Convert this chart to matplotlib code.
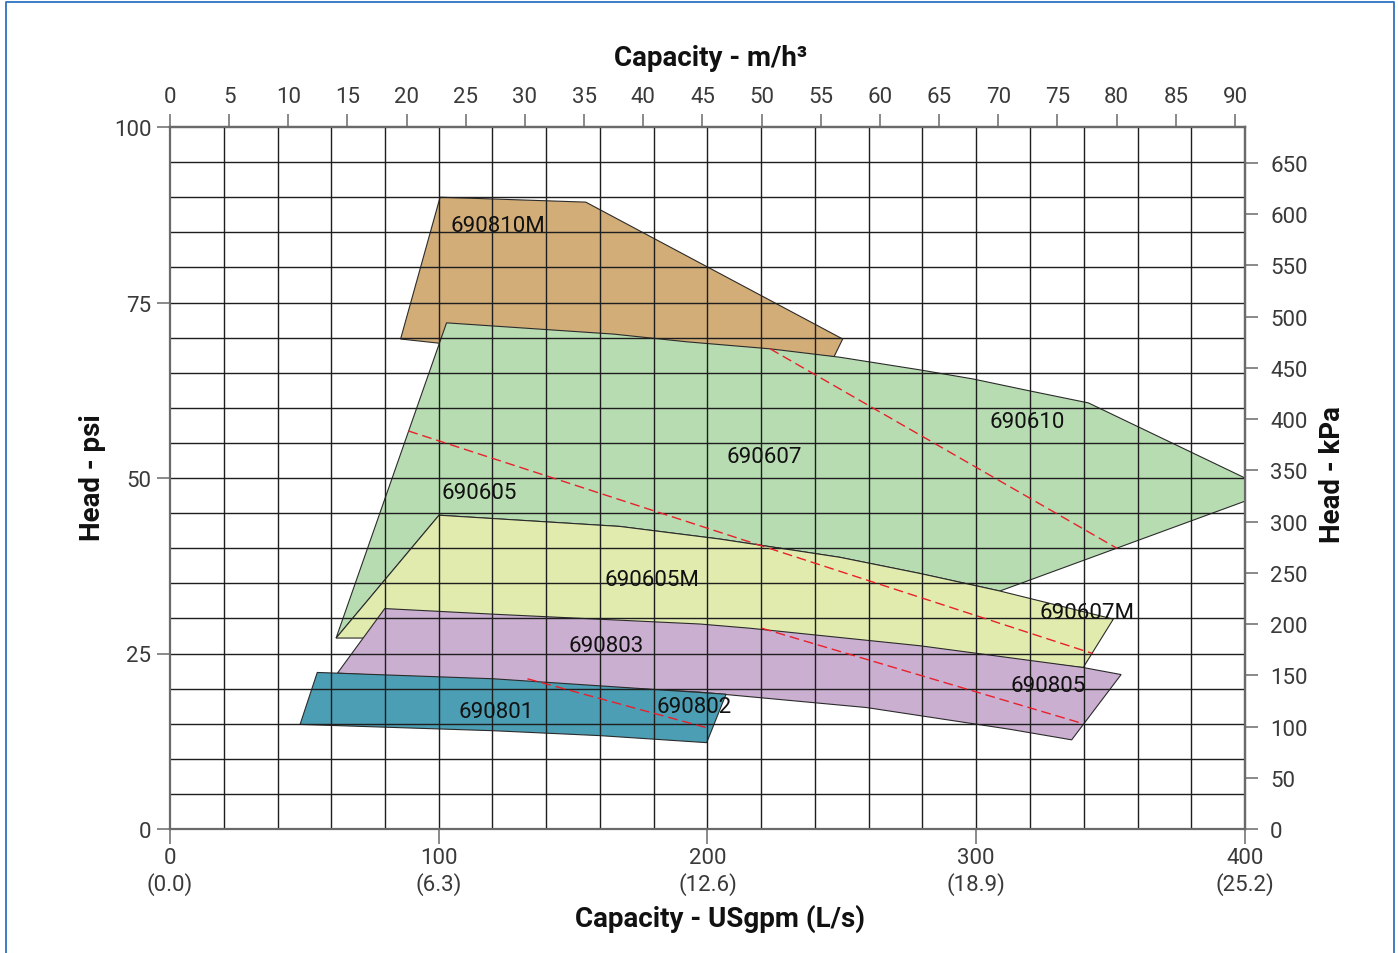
import numpy as np
import matplotlib.pyplot as plt
from matplotlib.patches import Polygon
from matplotlib.lines import Line2D

plt.rcParams['font.family'] = ['Roboto', 'DejaVu Sans']

GPM_TO_M3H = 0.227125
PSI_TO_KPA = 6.85

# pump operating windows: corner points in USgpm / psi
flow_690810M = [85.8, 100.5, 154.7, 250.3, 247.1, 100.2]
head_690810M = [69.8, 90.0, 89.3, 69.8, 67.3, 69.2]

flow_690607 = [61.8, 102.9, 165.0, 192.3, 223.3, 249.3, 279.1, 298.9, 320.0, 341.7,
               400.0, 400.0, 308.8, 279.1, 249.3, 204.7, 167.4, 100.1]
head_690607 = [27.2, 72.1, 70.5, 69.4, 68.4, 67.2, 65.4, 64.1, 62.4, 60.7,
               50.0, 46.7, 33.9, 36.4, 38.7, 41.3, 43.1, 44.7]

flow_690605M = [61.8, 100.1, 167.4, 204.7, 249.3, 279.1, 308.8, 351.0, 339.8,
                279.0, 197.0, 120.0, 75.0]
head_690605M = [27.2, 44.7, 43.1, 41.3, 38.7, 36.4, 33.9, 29.9, 23.0,
                25.6, 28.6, 30.0, 27.2]

flow_690803 = [62.3, 79.9, 120.3, 197.2, 215.8, 279.1, 339.8, 353.9, 335.5, 312.6, 259.2, 197.2]
head_690803 = [22.2, 31.4, 30.6, 29.2, 28.6, 26.1, 23.0, 22.0, 12.7, 14.2, 17.3, 19.5]

flow_690801 = [54.8, 120.3, 206.9, 199.7, 160.0, 120.3, 48.4]
head_690801 = [22.3, 21.4, 19.2, 12.3, 13.3, 14.0, 14.9]

# split lines between neighbouring models (start, end)
split_flow = [[223.3, 352.3], [88.7, 343.3], [220.2, 339.8], [133.0, 200.9]]
split_head = [[68.4, 40.0], [56.7, 25.0], [28.6, 15.0], [21.4, 14.3]]

models = ['690810M', '690605', '690607', '690610', '690605M',
          '690607M', '690803', '690805', '690801', '690802']
label_flow = [104.2, 101.2, 206.9, 305.1, 161.5, 323.7, 148.1, 312.6, 107.5, 181.2]
label_head = [85.9, 47.9, 53.0, 58.1, 35.6, 30.9, 26.1, 20.4, 16.8, 17.4]

gpm_ticks = [0, 100, 200, 300, 400]
gpm_labels = ['0\n(0.0)', '100\n(6.3)', '200\n(12.6)', '300\n(18.9)', '400\n(25.2)']
psi_ticks = [0, 25, 50, 75, 100]
m3h_ticks = list(range(0, 95, 5))
kpa_ticks = list(range(0, 700, 50))

windows = [
    (flow_690810M, head_690810M, '#d2ad78'),
    (flow_690607, head_690607, '#b7dcb2'),
    (flow_690605M, head_690605M, '#e2ebae'),
    (flow_690803, head_690803, '#cbafd1'),
    (flow_690801, head_690801, '#4c9eb4'),
]

W, H = 1398, 954
fig = plt.figure(figsize=(W / 100, H / 100), dpi=100)
ax = fig.add_axes([170 / W, 124 / H, 1075 / W, 702 / H])
ax.set_xlim(0, 400)
ax.set_ylim(0, 100)

for flow, head, color in windows:
    ax.add_patch(Polygon(np.column_stack([flow, head]), closed=True,
                         facecolor=color, edgecolor='#2b2b2b', lw=0.8, zorder=1))

# grid: 20 USgpm by 5 psi
for x in range(20, 400, 20):
    ax.axvline(x, color='#1e1e1e', lw=1.0, zorder=3)
for y in range(5, 100, 5):
    ax.axhline(y, color='#1e1e1e', lw=1.0, zorder=3)

for fx, hy in zip(split_flow, split_head):
    ax.plot(fx, hy, color='#e8202a', lw=1.0, dashes=(7, 3.5), zorder=4)

for name, fx, hy in zip(models, label_flow, label_head):
    ax.text(fx, hy, name, fontsize=16, color='#111111', ha='left', va='center', zorder=5)

frame_color = '#6a6a6a'
tick_text = '#3a3a3a'
for side in ax.spines.values():
    side.set_color(frame_color)
    side.set_linewidth(1.6)
    side.set_zorder(3.5)

ax.set_xticks(gpm_ticks)
ax.set_xticklabels(gpm_labels, linespacing=1.2)
ax.set_yticks(psi_ticks)
ax.tick_params(axis='x', direction='out', length=11, width=1.1, color=frame_color,
               pad=2, labelsize=16, labelcolor=tick_text)
ax.tick_params(axis='y', direction='out', length=9.5, width=1.1, color=frame_color,
               pad=4, labelsize=16, labelcolor=tick_text)

top = ax.secondary_xaxis('top', functions=(lambda q: q * GPM_TO_M3H,
                                           lambda q: q / GPM_TO_M3H))
top.set_xticks(m3h_ticks)
top.tick_params(direction='out', length=9.5, width=1.1, color=frame_color,
                pad=5, labelsize=16, labelcolor=tick_text)
top.spines['top'].set_color(frame_color)
top.spines['top'].set_linewidth(1.6)

right = ax.secondary_yaxis('right', functions=(lambda q: q * PSI_TO_KPA,
                                               lambda q: q / PSI_TO_KPA))
right.set_yticks(kpa_ticks)
right.tick_params(direction='out', length=9, width=1.1, color=frame_color,
                  pad=9, labelsize=16, labelcolor=tick_text)
right.spines['right'].set_color(frame_color)
right.spines['right'].set_linewidth(1.6)

title_kw = dict(fontsize=20, fontweight='bold', color='#111111', ha='center', va='center')
fig.text(711 / W, 1 - 59 / H, 'Capacity - m/h\u00b3', **title_kw)
fig.text(720 / W, 1 - 919 / H, 'Capacity - USgpm (L/s)', **title_kw)
fig.text(93 / W, 1 - 478 / H, 'Head - psi', rotation=90, **title_kw)
fig.text(1333 / W, 1 - 475 / H, 'Head - kPa', rotation=90, **title_kw)

# thin outline around the sheet
bx0, bx1, by = 6 / W, 1394 / W, 1 - 3 / H
fig.add_artist(Line2D([bx0, bx0, bx1, bx1], [-0.01, by, by, -0.01],
                      transform=fig.transFigure, color='#2f72c0', lw=1.3))

fig.savefig('out.png', dpi=100)
